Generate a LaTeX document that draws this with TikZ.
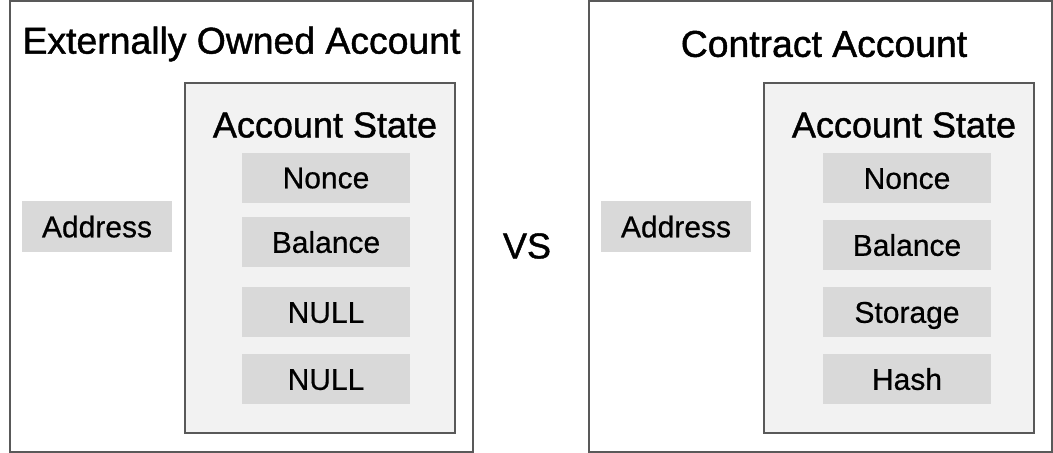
\documentclass[tikz,border=0pt]{standalone}
\usepackage{fontspec}
\setmainfont{Liberation Sans}
\newfontfamily\headfont{Liberation Sans}[FakeBold=1.2]
\newfontfamily\fieldfont{Liberation Sans}[FakeBold=0.6]
\usepackage{xcolor}
\usepackage{tikz}
\usetikzlibrary{positioning}
\definecolor{edgegray}{RGB}{89, 89, 89}
\definecolor{statefill}{RGB}{242, 242, 242}
\definecolor{fieldfill}{RGB}{217, 217, 217}

\tikzset{
  heading/.style={font=\headfont\fontsize{27}{32}\selectfont, inner sep=0pt},
  title/.style={heading, font=\headfont\fontsize{28}{33}\selectfont},
  fieldbox/.style={fill=fieldfill, minimum width=126pt, minimum height=37.5pt, inner sep=0pt,
    text height=16.2pt, text depth=0pt, font=\fieldfont\fontsize{22.5}{27}\selectfont},
  addrbox/.style={fieldbox, minimum width=112.5pt, minimum height=38.25pt}
}

\begin{document}
\begin{tikzpicture}[x=0.75pt, y=-0.75pt]
                \useasboundingbox (0,0) rectangle (1053,453);
                % externally owned account
                \draw[edgegray, line width=1.5pt, fill=white] (10,1.5) rectangle (472.5,451.5);
                \node[title] (eoatitle) at (241.5,44) {Externally Owned Account};
                \node[addrbox] (eoaaddr) at (97,226.5) {Address};
                \draw[edgegray, line width=1.5pt, fill=statefill] (185,83) rectangle (455,433);
                \node[heading] (eoastate) at (325,125) {Account State};
                \node[fieldbox] (eoanonce) at (326,177.5) {Nonce};
                \node[fieldbox] (eoabalance) at (326,242) {Balance};
                \node[fieldbox] (eoanulla) at (326,312) {NULL};
                \node[fieldbox] (eoanullb) at (326,379) {NULL};

                \node[heading] (vs) at (527,246) {VS};

                % contract account
                \draw[edgegray, line width=1.5pt, fill=white] (589,1.5) rectangle (1051.5,451.5);
                \node[title] (catitle) at (824,44) {Contract Account};
                \node[addrbox] (caaddr) at (676,226.5) {Address};
                \draw[edgegray, line width=1.5pt, fill=statefill] (764,83) rectangle (1034,433);
                \node[heading] (castate) at (904,125) {Account State};
                \node[fieldbox] (canonce) at (907,178) {Nonce};
                \node[fieldbox] (cabalance) at (907,245) {Balance};
                \node[fieldbox] (castorage) at (907,312) {Storage};
                \node[fieldbox] (cahash) at (907,379) {Hash};
            \end{tikzpicture}
\end{document}
